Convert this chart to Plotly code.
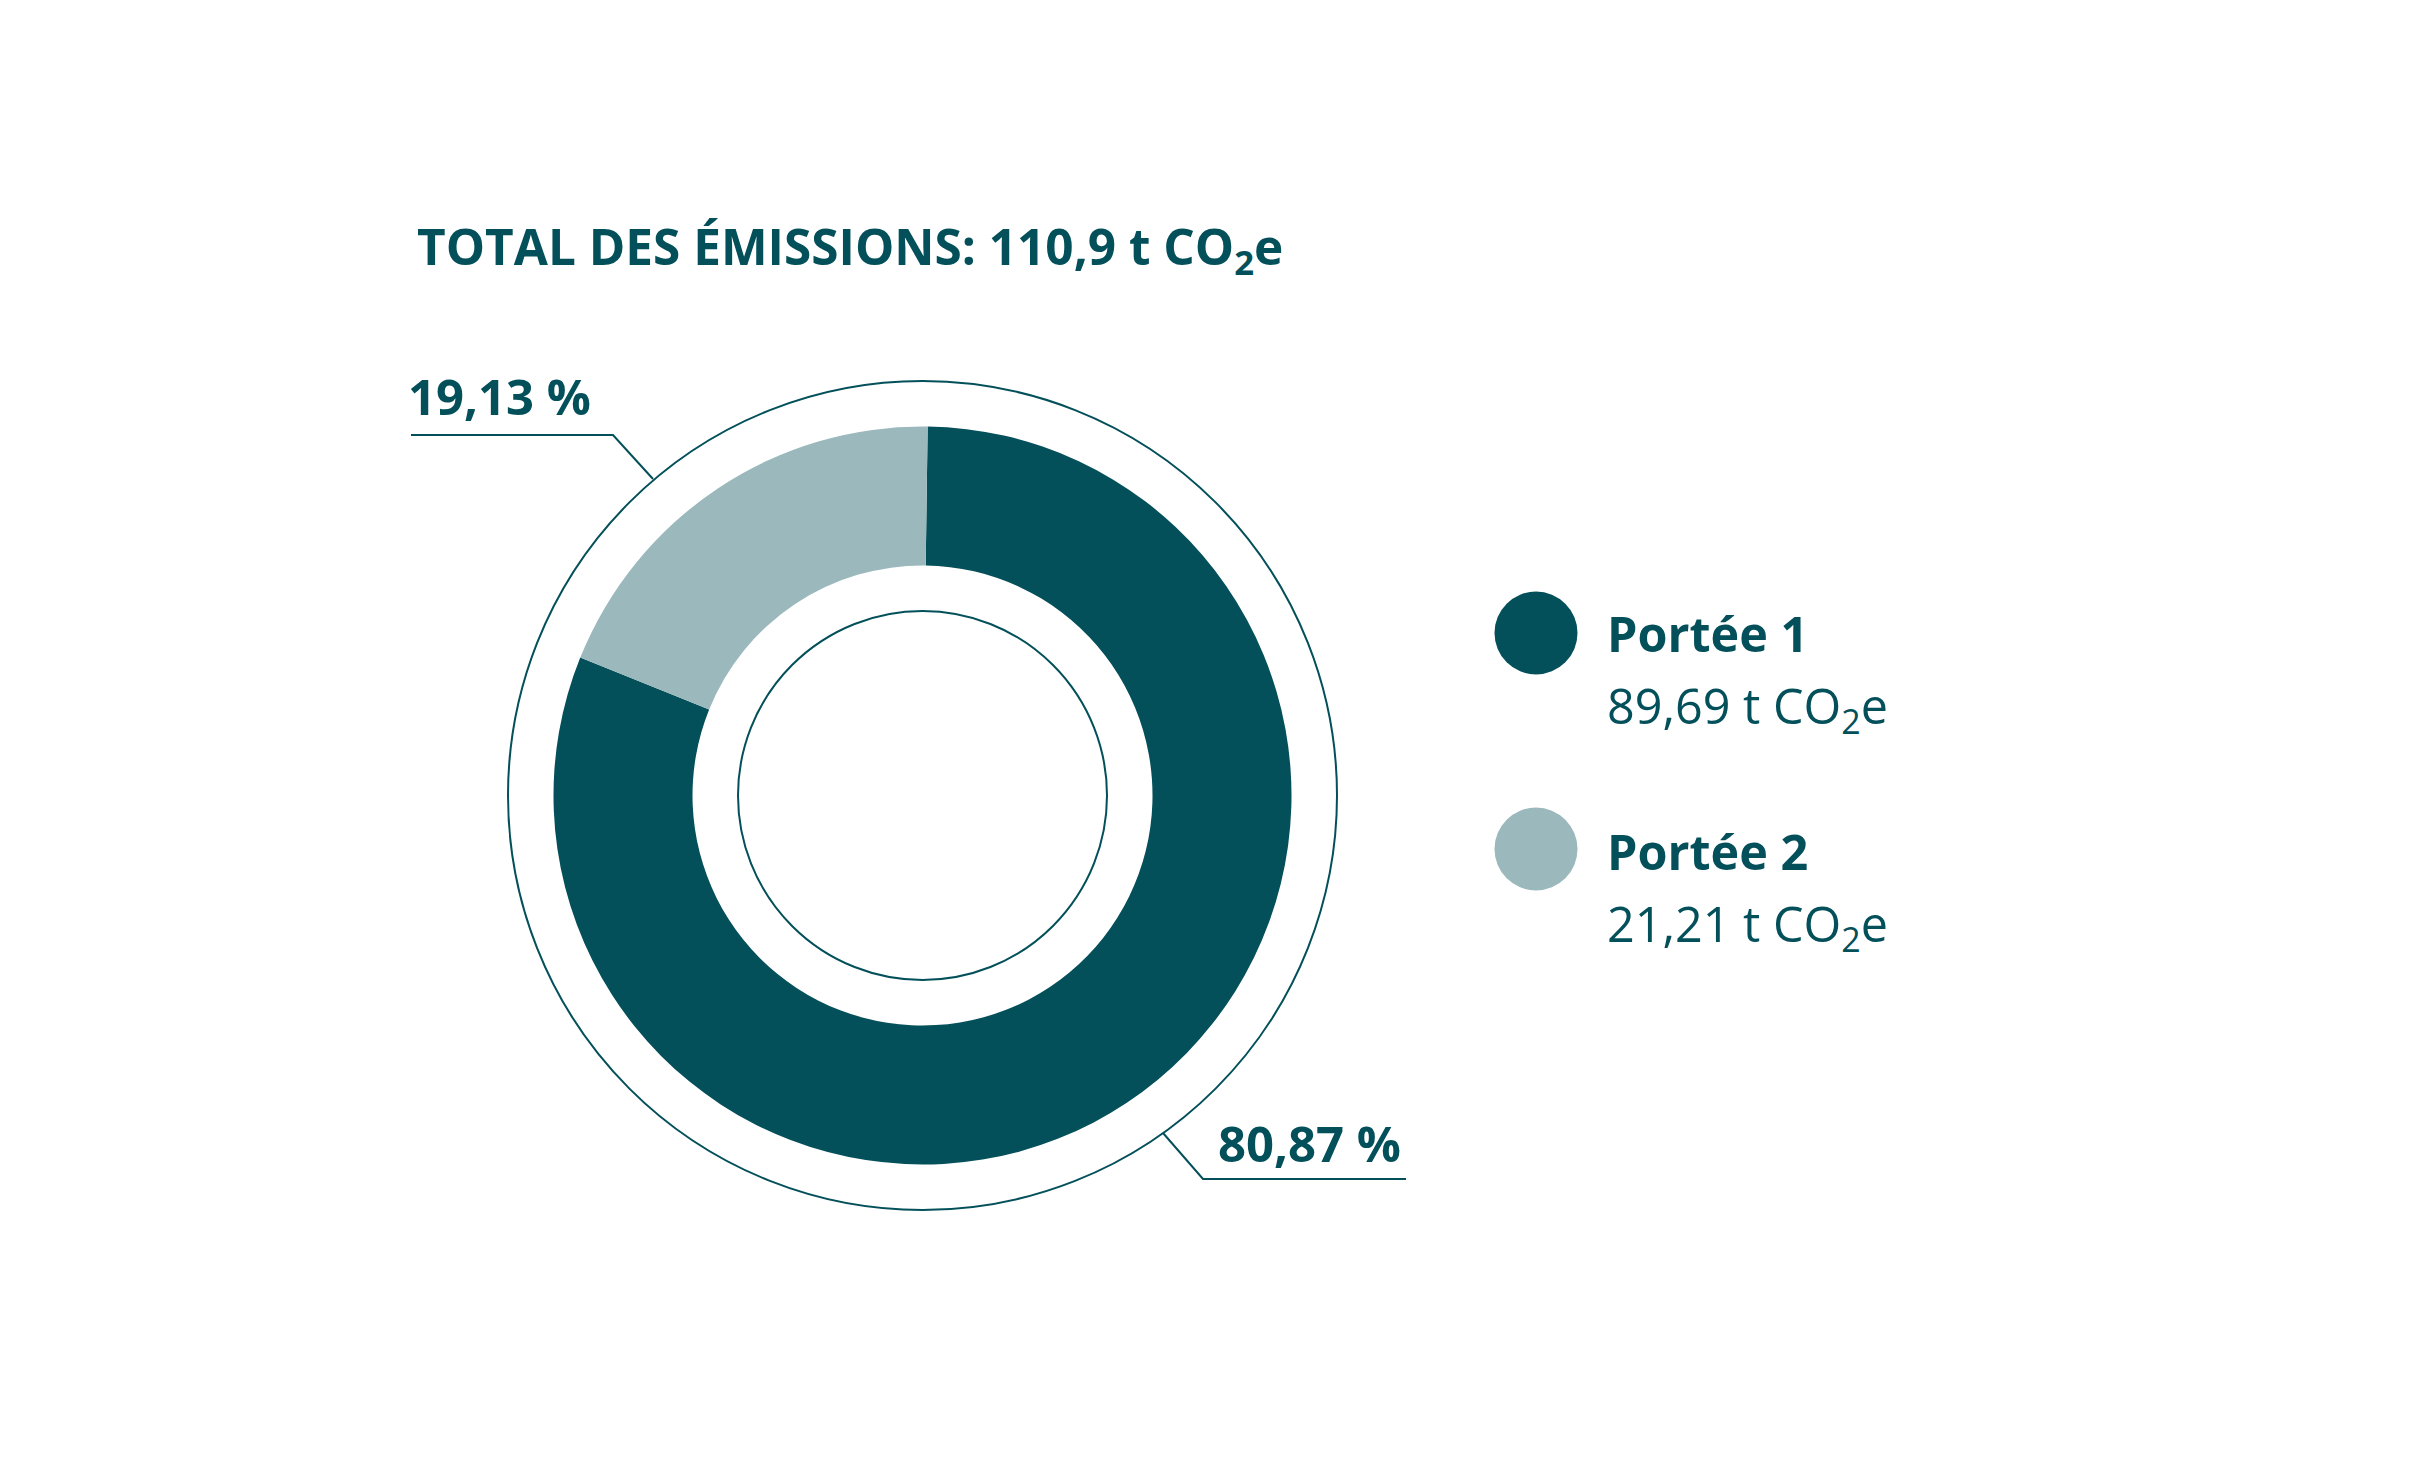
import plotly.graph_objects as go

# ---- data ----
categories = ["Portée 1", "Portée 2"]
values = [89.69, 21.21]          # t CO2e
colors = ["#03505A", "#9BB9BC"]
title_prefix = "TOTAL DES ÉMISSIONS: "
unit = "t CO<sub>2</sub>e"

W, H = 2426, 1465
OFF = 8  # page body margin
INK = "#03505A"
FONT = "Open Sans"


def px(x):
    return (x - OFF) / W


def py(y):
    return 1 - (y - OFF) / H


def fmt(v, d):
    return f"{v:.{d}f}".replace(".", ",")


total = sum(values)
pcts = [v / total * 100 for v in values]

# donut geometry (pixels)
cx, cy, R = 922.5, 795.5, 369
hole = 230 / R

fig = go.Figure()
fig.add_trace(go.Pie(
    labels=categories, values=values, sort=False, direction="clockwise",
    rotation=0.8, hole=hole, textinfo="none", hoverinfo="label+value+percent",
    marker=dict(colors=colors, line=dict(width=0)),
    domain=dict(x=[px(cx - R), px(cx + R)], y=[py(cy + R), py(cy - R)]),
    showlegend=False,
))

shapes = []
# decorative rings
for r in (414.5, 184.5):
    shapes.append(dict(type="circle", xref="paper", yref="paper",
                       x0=px(cx - r), x1=px(cx + r), y0=py(cy + r), y1=py(cy - r),
                       line=dict(color=INK, width=2), fillcolor="rgba(0,0,0,0)"))

# leader lines
def path(points):
    d = "M " + " L ".join(f"{px(x)},{py(y)}" for x, y in points)
    return dict(type="path", xref="paper", yref="paper", path=d,
                line=dict(color=INK, width=2))

shapes.append(path([(411, 435), (613, 435), (653, 479)]))
shapes.append(path([(1163, 1133), (1203, 1179), (1406, 1179)]))

# legend dots
leg_y = [633, 849]
for c, y in zip(colors, leg_y):
    r = 41.5
    shapes.append(dict(type="circle", xref="paper", yref="paper",
                       x0=px(1536 - r), x1=px(1536 + r), y0=py(y + r), y1=py(y - r),
                       line=dict(width=0), fillcolor=c))

annotations = []


def text(x, baseline, s, size, bold):
    t = f"<b>{s}</b>" if bold else s
    annotations.append(dict(x=px(x), y=py(baseline - 0.388 * size), xref="paper", yref="paper",
                            xanchor="left", yanchor="middle", showarrow=False, text=t,
                            font=dict(family=FONT, size=size, color=INK)))


text(415, 268, f"{title_prefix}{fmt(total, 1)} {unit}", 49.5, True)
text(406, 415, f"{fmt(pcts[1], 2)} %", 49, True)
text(1216, 1162, f"{fmt(pcts[0], 2)} %", 49, True)

leg_base = [(652, 727), (870, 945)]
for cat, v, (b1, b2) in zip(categories, values, leg_base):
    text(1605, b1, cat, 48.5, True)
    text(1605, b2, f"{fmt(v, 2)} {unit}", 48.5, False)

fig.update_layout(
    width=W, height=H, margin=dict(l=0, r=0, t=0, b=0),
    paper_bgcolor="white", plot_bgcolor="white",
    shapes=shapes, annotations=annotations, showlegend=False,
)

fig.write_html("out.html")
